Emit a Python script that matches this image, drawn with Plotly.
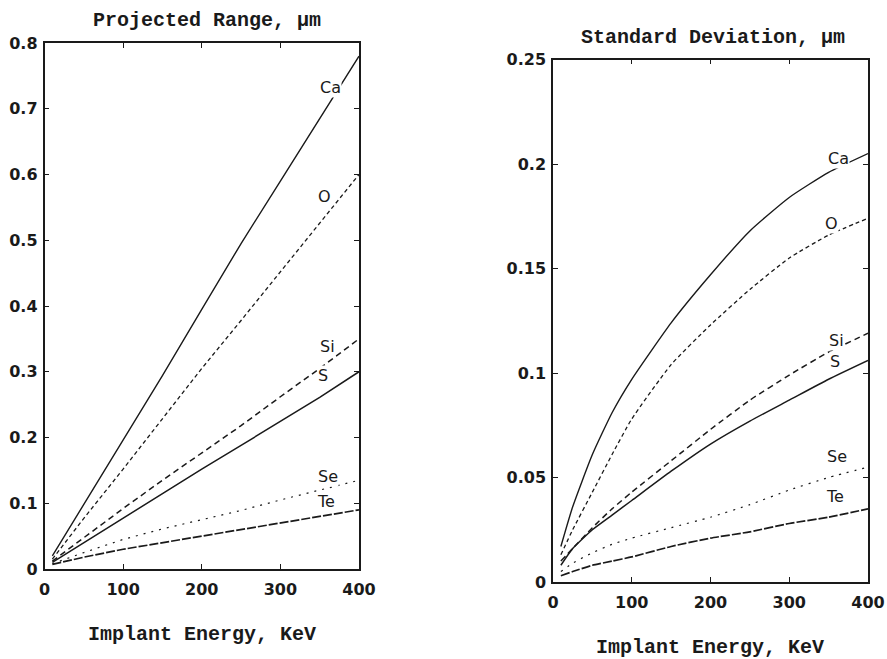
import plotly.graph_objects as go

# ---------------- data ----------------
energy_L = [10, 50, 100, 150, 200, 250, 300, 350, 400]
range_Ca = [0.020, 0.098, 0.196, 0.294, 0.395, 0.495, 0.590, 0.685, 0.780]
range_O = [0.015, 0.077, 0.152, 0.228, 0.305, 0.378, 0.452, 0.526, 0.600]
range_Si = [0.012, 0.048, 0.092, 0.135, 0.177, 0.218, 0.262, 0.305, 0.350]
range_S = [0.010, 0.040, 0.078, 0.115, 0.152, 0.188, 0.224, 0.261, 0.300]
range_Se = [0.008, 0.025, 0.045, 0.061, 0.075, 0.089, 0.105, 0.120, 0.135]
range_Te = [0.007, 0.018, 0.030, 0.040, 0.050, 0.060, 0.071, 0.081, 0.090]

energy_R = [10, 25, 50, 75, 100, 150, 200, 250, 300, 350, 400]
sd_Ca = [0.017, 0.036, 0.061, 0.081, 0.097, 0.124, 0.147, 0.168, 0.184, 0.196, 0.205]
sd_O = [0.013, 0.025, 0.043, 0.061, 0.078, 0.104, 0.123, 0.140, 0.155, 0.166, 0.174]
sd_Si = [0.010, 0.016, 0.026, 0.035, 0.043, 0.058, 0.073, 0.087, 0.099, 0.110, 0.119]
sd_S = [0.008, 0.016, 0.025, 0.032, 0.039, 0.053, 0.066, 0.077, 0.087, 0.097, 0.106]
sd_Se = [0.005, 0.009, 0.014, 0.018, 0.021, 0.026, 0.031, 0.037, 0.044, 0.050, 0.055]
sd_Te = [0.003, 0.005, 0.008, 0.010, 0.012, 0.017, 0.021, 0.024, 0.028, 0.031, 0.035]

ions = ["Ca", "O", "Si", "S", "Se", "Te"]
label_pos_L = {"Ca": (364, 0.733), "O": (356, 0.566), "Si": (360, 0.338),
               "S": (354, 0.294), "Se": (360, 0.141), "Te": (358, 0.102)}
label_pos_R = {"Ca": (362, 0.2027), "O": (354, 0.1716), "Si": (360, 0.1155),
               "S": (358, 0.1055), "Se": (360, 0.060), "Te": (358, 0.0408)}

left_ticks = [0, 0.1, 0.2, 0.3, 0.4, 0.5, 0.6, 0.7, 0.8]
left_ticktext = ["0", "0.1", "0.2", "0.3", "0.4", "0.5", "0.6", "0.7", "0.8"]
right_ticks = [0, 0.05, 0.1, 0.15, 0.2, 0.25]
right_ticktext = ["0", "0.05", "0.1", "0.15", "0.2", "0.25"]
x_ticks = [0, 100, 200, 300, 400]

left_title = "Projected Range, μm"
right_title = "Standard Deviation, μm"
x_title = "Implant Energy, KeV"

# ---------------- styles ----------------
INK = "#1a1a1a"
dash_style = {"Ca": "solid", "O": "4px,3px", "Si": "6px,4px", "S": "solid",
              "Se": "2px,6px", "Te": "9px,2px"}
width_style = {"Ca": 1.4, "O": 1.3, "Si": 1.5, "S": 1.5, "Se": 1.2, "Te": 1.7}

left_series = dict(zip(ions, [range_Ca, range_O, range_Si, range_S, range_Se, range_Te]))
right_series = dict(zip(ions, [sd_Ca, sd_O, sd_Si, sd_S, sd_Se, sd_Te]))

fig = go.Figure()
for ion in ions:
    fig.add_trace(go.Scatter(x=energy_L, y=left_series[ion], mode="lines",
                             line=dict(color=INK, width=width_style[ion], dash=dash_style[ion]),
                             xaxis="x", yaxis="y", showlegend=False, hoverinfo="skip"))
for ion in ions:
    fig.add_trace(go.Scatter(x=energy_R, y=right_series[ion], mode="lines",
                             line=dict(color=INK, width=width_style[ion], dash=dash_style[ion],
                                       shape="spline", smoothing=0.5),
                             xaxis="x2", yaxis="y2", showlegend=False, hoverinfo="skip"))

W, H = 887, 659
L_dom_x = [44.5 / W, 359 / W]
L_dom_y = [1 - 569 / H, 1 - 43 / H]
R_dom_x = [553 / W, 868 / W]
R_dom_y = [1 - 582 / H, 1 - 59.5 / H]

tick_font = dict(family="DejaVu Sans", size=16, color=INK, weight="bold")
text_font = dict(family="Liberation Mono", size=20, color=INK, weight="bold")
label_font = dict(family="DejaVu Sans", size=16, color=INK)

xcommon = dict(range=[0, 400], tickvals=x_ticks, ticks="inside", ticklen=5,
               tickwidth=1.2, tickcolor=INK, showline=True, linecolor=INK, linewidth=1.5,
               mirror="allticks", showgrid=False, zeroline=False, tickfont=tick_font,
               ticklabelstandoff=5, automargin=False)
ycommon = dict(ticks="inside", ticklen=5, tickwidth=1.2, tickcolor=INK, showline=True,
               linecolor=INK, linewidth=1.5, mirror="allticks", showgrid=False, zeroline=False,
               tickfont=tick_font, ticklabelstandoff=2, automargin=False)

fig.update_layout(
    width=W, height=H, margin=dict(l=0, r=0, t=0, b=0, autoexpand=False),
    paper_bgcolor="white", plot_bgcolor="white",
    xaxis=dict(domain=L_dom_x, anchor="y", **xcommon),
    yaxis=dict(domain=L_dom_y, anchor="x", range=[0, 0.8], tickvals=left_ticks,
               ticktext=left_ticktext, **ycommon),
    xaxis2=dict(domain=R_dom_x, anchor="y2", **xcommon),
    yaxis2=dict(domain=R_dom_y, anchor="x2", range=[0, 0.25], tickvals=right_ticks,
                ticktext=right_ticktext, **ycommon),
)

annotations = []
for ion in ions:
    ex, ey = label_pos_L[ion]
    annotations.append(dict(x=ex, y=ey, xref="x", yref="y", text=ion, showarrow=False,
                            font=label_font, bgcolor="white", borderpad=0))
    ex, ey = label_pos_R[ion]
    annotations.append(dict(x=ex, y=ey, xref="x2", yref="y2", text=ion, showarrow=False,
                            font=label_font, bgcolor="white", borderpad=0))

annotations += [
    dict(x=207 / W, y=1 - 21 / H, xref="paper", yref="paper", text=left_title, showarrow=False,
         font=text_font, xanchor="center", yanchor="middle"),
    dict(x=713 / W, y=1 - 37 / H, xref="paper", yref="paper", text=right_title, showarrow=False,
         font=text_font, xanchor="center", yanchor="middle"),
    dict(x=202 / W, y=1 - 634 / H, xref="paper", yref="paper", text=x_title, showarrow=False,
         font=text_font, xanchor="center", yanchor="middle"),
    dict(x=710 / W, y=1 - 647 / H, xref="paper", yref="paper", text=x_title, showarrow=False,
         font=text_font, xanchor="center", yanchor="middle"),
]
fig.update_layout(annotations=annotations)

fig.write_html("out.html")
